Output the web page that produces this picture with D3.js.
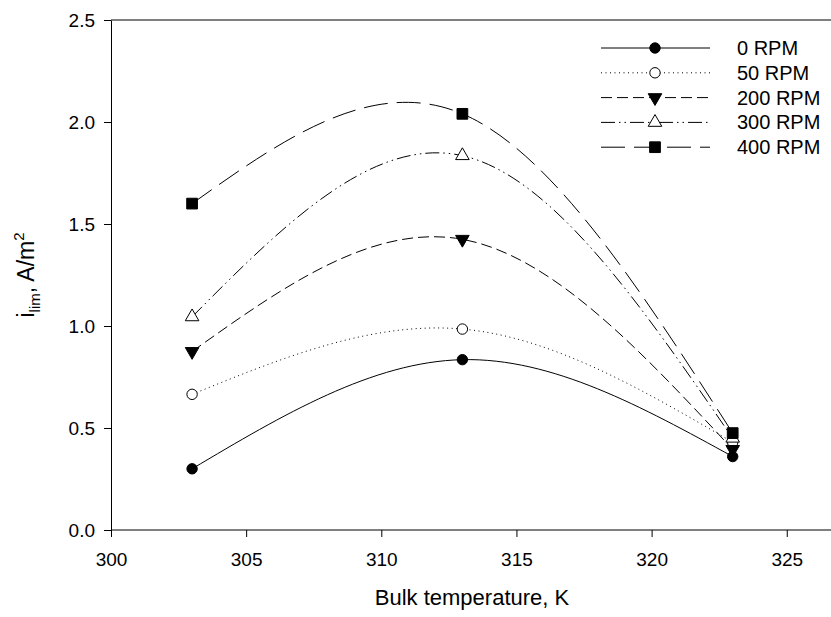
<!DOCTYPE html>
<html>
<head>
<meta charset="utf-8">
<script src="https://cdn.jsdelivr.net/npm/d3@7.9.0/dist/d3.min.js"></script>
<style>
  html, body { margin: 0; padding: 0; background: #fff; }
  svg { display: block; font-family: "Liberation Sans", Arial, sans-serif; }
  .axis text { font-size: 19px; fill: #000; }
  .axis path, .axis line { stroke: #000; stroke-width: 1; }
</style>
</head>
<body>
<div id="chart"></div>
<script>
// temperatures (K) where limiting current was measured
const temps = [303, 313, 323];

// limiting current density, A/m^2, one array per rotation speed
const rpm0   = [0.30, 0.835, 0.36];
const rpm50  = [0.665, 0.985, 0.43];
const rpm200 = [0.875, 1.425, 0.395];
const rpm300 = [1.045, 1.835, 0.45];
const rpm400 = [1.60, 2.04, 0.475];

const seriesNames = ['0 RPM', '50 RPM', '200 RPM', '300 RPM', '400 RPM'];
const xTicks = [300, 305, 310, 315, 320, 325];
const yTicks = [0, 0.5, 1.0, 1.5, 2.0, 2.5];

const series = [
  { name: seriesNames[0], values: rpm0,   dash: null,               symbol: d3.symbolCircle,   fill: '#000', size: 85 },
  { name: seriesNames[1], values: rpm50,  dash: '1,3.5',            symbol: d3.symbolCircle,   fill: '#fff', size: 85 },
  { name: seriesNames[2], values: rpm200, dash: '11,5',             symbol: 'down',            fill: '#000', size: 80 },
  { name: seriesNames[3], values: rpm300, dash: '14,4,1.5,4,1.5,4', symbol: d3.symbolTriangle, fill: '#fff', size: 80 },
  { name: seriesNames[4], values: rpm400, dash: '24,9',             symbol: d3.symbolSquare,   fill: '#000', size: 115 }
];

const width = 831;
const height = 617;
const margin = { top: 20, left: 111, bottom: 87 };

const xScale = d3.scaleLinear()
  .domain([300, 330])
  .range([margin.left, margin.left + 30 * 27.03]);

const yScale = d3.scaleLinear()
  .domain([0, 2.5])
  .range([height - margin.bottom, margin.top]);

const svg = d3.select('#chart')
  .append('svg')
  .attr('width', width)
  .attr('height', height);

// frame top line
svg.append('line')
  .attr('x1', margin.left).attr('x2', width + 5)
  .attr('y1', yScale(2.5)).attr('y2', yScale(2.5))
  .attr('stroke', '#000');

// axes
svg.append('g')
  .attr('class', 'axis')
  .attr('transform', `translate(0, ${yScale(0)})`)
  .call(d3.axisBottom(xScale).tickValues(xTicks).tickSize(7).tickSizeOuter(0).tickPadding(16))
  .call(g => g.select('.domain').attr('d', `M${margin.left},0H${width + 5}`));

svg.append('g')
  .attr('class', 'axis')
  .attr('transform', `translate(${margin.left}, 0)`)
  .call(d3.axisLeft(yScale).tickValues(yTicks).tickFormat(d3.format('.1f')).tickSize(7).tickSizeOuter(0).tickPadding(9));

// axis titles
svg.append('text')
  .attr('x', 472)
  .attr('y', 605)
  .attr('text-anchor', 'middle')
  .attr('font-size', 22)
  .text('Bulk temperature, K');

const yTitle = svg.append('text')
  .attr('transform', `translate(34, ${(yScale(0) + yScale(2.5)) / 2}) rotate(-90)`)
  .attr('text-anchor', 'middle')
  .attr('font-size', 23);
yTitle.append('tspan').text('i');
yTitle.append('tspan').attr('font-size', 15).attr('dy', 6).text('lim');
yTitle.append('tspan').attr('dy', -6).text(', A/m');
yTitle.append('tspan').attr('font-size', 15).attr('dy', -10).text('2');

function symbolPath(s) {
  if (s.symbol === 'down') {
    return d3.symbol(d3.symbolTriangle, s.size)();
  }
  return d3.symbol(s.symbol, s.size)();
}

const line = d3.line()
  .x(d => xScale(d[0]))
  .y(d => yScale(d[1]))
  .curve(d3.curveNatural);

// curves
const plot = svg.append('g');
series.forEach(s => {
  const pts = temps.map((t, i) => [t, s.values[i]]);
  plot.append('path')
    .attr('d', line(pts))
    .attr('fill', 'none')
    .attr('stroke', '#000')
    .attr('stroke-width', 1)
    .attr('stroke-dasharray', s.dash);
});

// markers
series.forEach(s => {
  plot.selectAll(null)
    .data(temps.map((t, i) => [t, s.values[i]]))
    .join('path')
    .attr('d', symbolPath(s))
    .attr('transform', d => `translate(${xScale(d[0])}, ${yScale(d[1])})${s.symbol === 'down' ? ' rotate(180)' : ''}`)
    .attr('fill', s.fill)
    .attr('stroke', '#000')
    .attr('stroke-width', 1);
});

// legend
const legend = svg.append('g').attr('transform', 'translate(601, 48)');
series.forEach((s, i) => {
  const g = legend.append('g').attr('transform', `translate(0, ${i * 24.8})`);
  g.append('line')
    .attr('x1', 0).attr('x2', 109)
    .attr('stroke', '#000')
    .attr('stroke-dasharray', s.dash);
  g.append('path')
    .attr('d', symbolPath(s))
    .attr('transform', `translate(54, 0)${s.symbol === 'down' ? ' rotate(180)' : ''}`)
    .attr('fill', s.fill)
    .attr('stroke', '#000');
  g.append('text')
    .attr('x', 136)
    .attr('y', 7)
    .attr('font-size', 20)
    .text(s.name);
});
</script>
</body>
</html>
